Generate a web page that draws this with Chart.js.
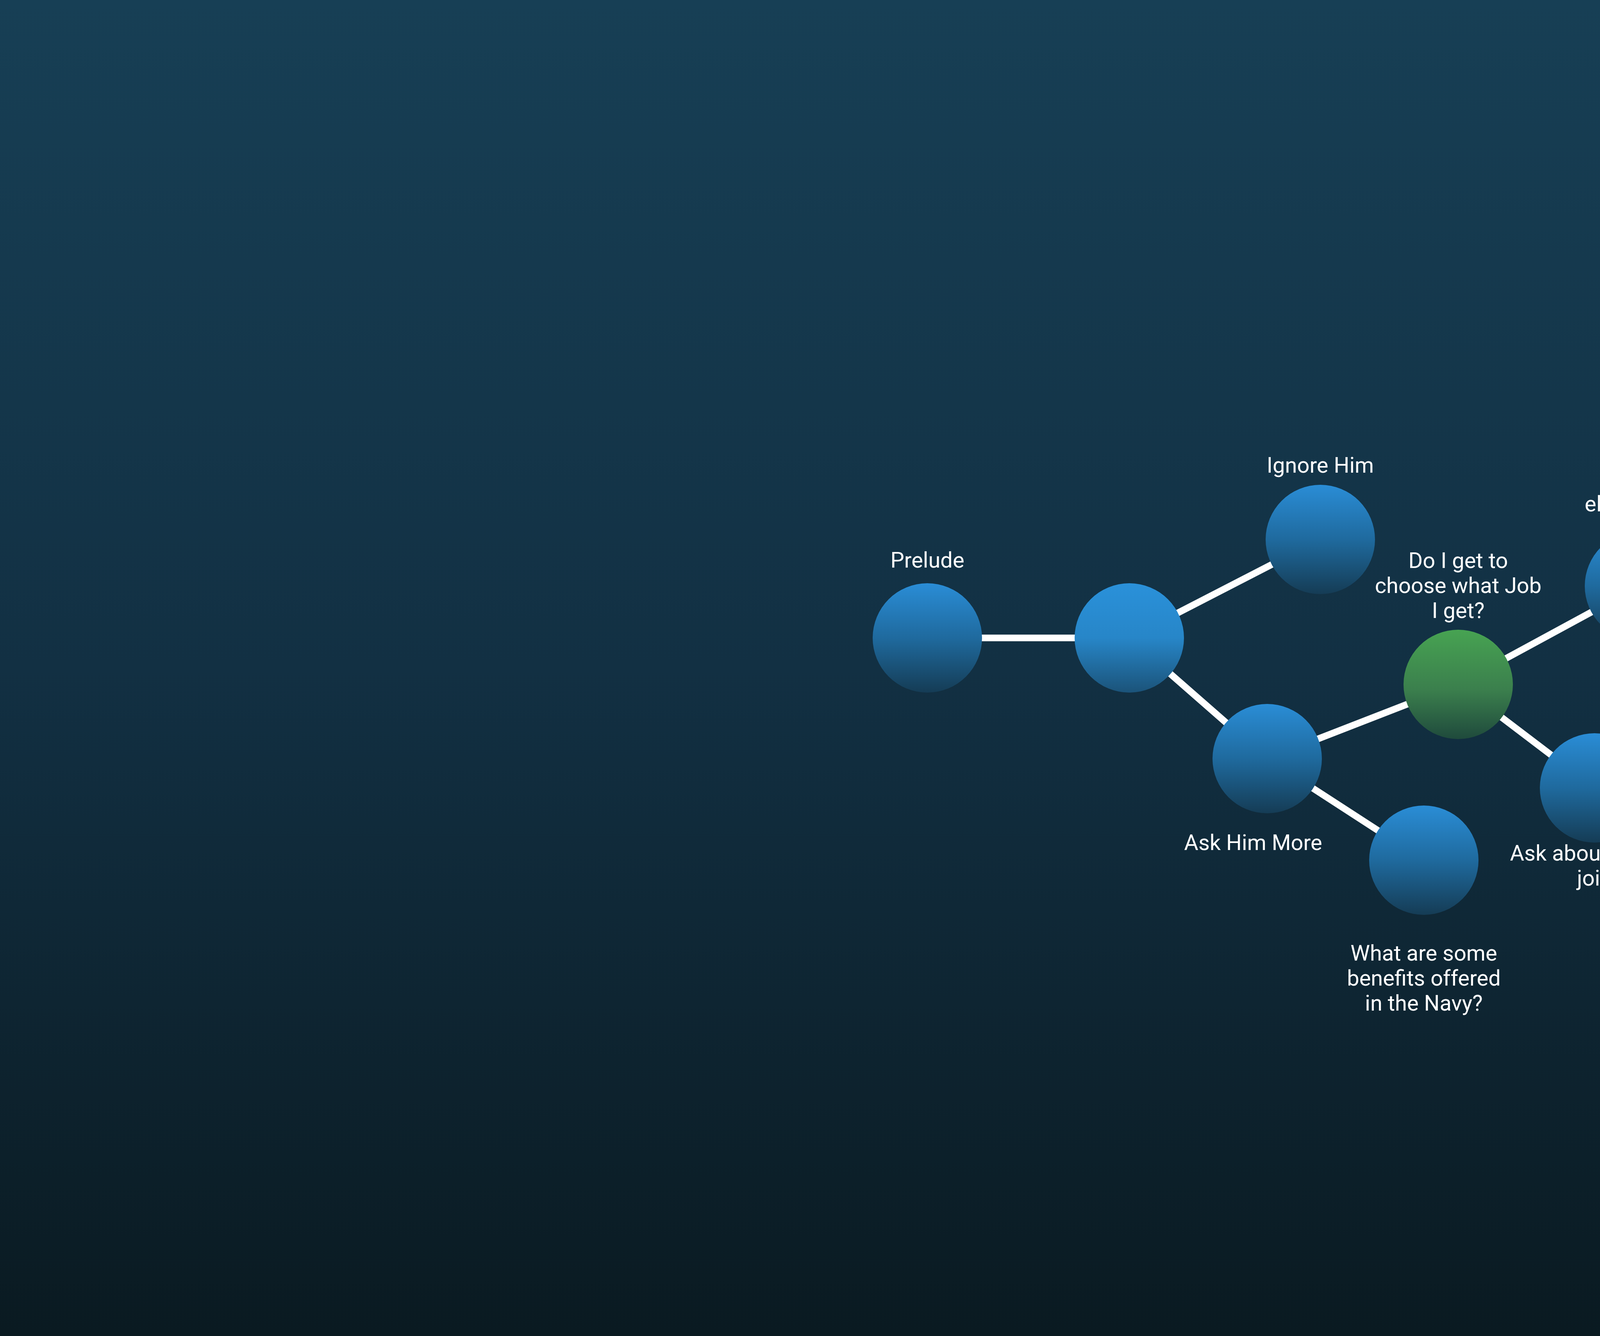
<!DOCTYPE html>
<html>
<head>
<meta charset="utf-8">
<script src="https://cdn.jsdelivr.net/npm/chart.js@4/dist/chart.umd.min.js"></script>
<style>
  html, body { margin: 0; padding: 0; width: 6920px; height: 3420px; overflow: hidden; }
  body { background: linear-gradient(to bottom, #173f55 0%, #123043 50%, #0a1a21 100%); }
  #myChart { position: absolute; left: 0; top: 0; width: 6920px; height: 3420px; display: block; }
</style>
</head>
<body>
<canvas id="myChart" width="6920" height="3420"></canvas>
<script>
// ------------------------Node Data--------------------------------
const nodeNames = ['Prelude', '', 'Ignore Him', 'Ask Him More', 'Do I get to|choose what Job|I get?', 'Ask for|elaboration', 'Ask about how to|join', 'What are some|benefits offered|in the Navy?']
const nodeX = [2374, 2891, 3380, 3244, 3733, 4197, 4082, 3645]
const nodeY = [1633, 1633, 1381, 1942, 1752, 1500, 2017, 2202]
const nodeActive = [false, false, false, false, true, false, false, false]
const edgeFrom = [0, 1, 1, 3, 3, 4, 4]
const edgeTo = [1, 2, 3, 4, 7, 5, 6]
// label offset (first line centre relative to node centre)
const labelDx = [0, 0, 0, -36, 0, 0, 0, 0]
const labelDy = [-194, 0, -185, 220, -312, -269, 172, 243]

const RADIUS = 140
const LINE_H = 64

// ------------------------Plugin for nodes----------------------------
const nodePlugin = {
  id: 'nodes',
  afterDatasetsDraw(chart) {
    const { ctx, scales } = chart
    nodeX.forEach((vx, i) => {
      const px = scales.x.getPixelForValue(vx)
      const py = scales.y.getPixelForValue(nodeY[i])
      const g = ctx.createLinearGradient(0, py - RADIUS, 0, py + RADIUS)
      if (nodeActive[i]) {
        g.addColorStop(0, '#47a352')
        g.addColorStop(0.55, '#3b7f4d')
        g.addColorStop(1, '#1f4a3c')
      } else if (i === 1) {
        g.addColorStop(0, '#2a91da')
        g.addColorStop(0.5, '#2786c8')
        g.addColorStop(1, '#1b5379')
      } else {
        g.addColorStop(0, '#2a8dd6')
        g.addColorStop(0.5, '#1f6a9e')
        g.addColorStop(1, '#153c55')
      }
      ctx.save()
      ctx.beginPath()
      ctx.arc(px, py, RADIUS, 0, Math.PI * 2)
      ctx.fillStyle = g
      ctx.fill()
      ctx.restore()

      if (nodeNames[i]) {
        ctx.save()
        ctx.fillStyle = '#ffffff'
        ctx.font = '56px Roboto'
        ctx.textAlign = 'center'
        ctx.textBaseline = 'middle'
        nodeNames[i].split('|').forEach((line, k) => {
          ctx.fillText(line, px + labelDx[i], py + labelDy[i] + k * LINE_H)
        })
        ctx.restore()
      }
    })
  }
}

// ------------------------Edges as line datasets-----------------------
const edgeSets = edgeFrom.map((a, k) => {
  const b = edgeTo[k]
  const dx = nodeX[b] - nodeX[a], dy = nodeY[b] - nodeY[a]
  const len = Math.sqrt(dx * dx + dy * dy)
  const ux = dx / len, uy = dy / len
  const r = RADIUS - 6
  return {
    type: 'line',
    data: [
      { x: nodeX[a] + ux * r, y: nodeY[a] + uy * r },
      { x: nodeX[b] - ux * r, y: nodeY[b] - uy * r }
    ],
    borderColor: '#ffffff',
    borderWidth: 17,
    pointRadius: 0,
    borderCapStyle: 'butt',
    tension: 0
  }
})

const chartCanvas = document.getElementById('myChart')
const myChart = new Chart(chartCanvas, {
  type: 'scatter',
  data: { datasets: edgeSets },
  options: {
    animation: false,
    responsive: false,
    devicePixelRatio: 1,
    layout: { padding: 0 },
    plugins: { legend: { display: false }, tooltip: { enabled: false } },
    scales: {
      x: { type: 'linear', min: 0, max: 6920, display: false },
      y: { type: 'linear', min: 0, max: 3420, reverse: true, display: false }
    }
  },
  plugins: [nodePlugin]
})
</script>
</body>
</html>
